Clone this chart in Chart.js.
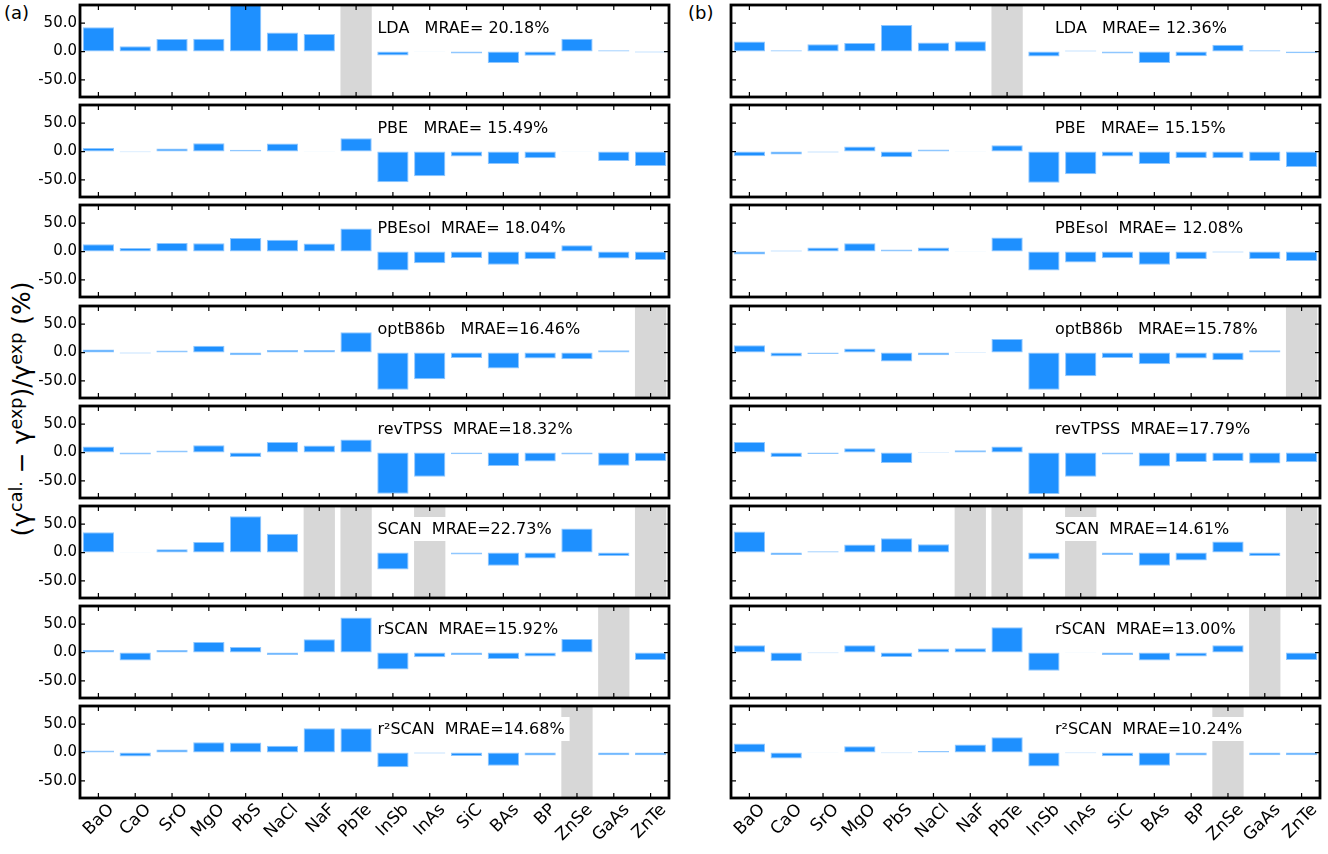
<!DOCTYPE html>
<html>
<head>
<meta charset="utf-8">
<script src="https://cdn.jsdelivr.net/npm/chart.js@4.4.0/dist/chart.umd.min.js"></script>
<style>
  html, body { margin: 0; padding: 0; background: #fff; }
  body { width: 1328px; height: 854px; position: relative; overflow: hidden; font-family: 'DejaVu Sans', sans-serif; }
  canvas { position: absolute; }
  .tag { position: absolute; font-size: 18px; line-height: 1; }
  #ytitle { position: absolute; left: 21px; top: 409px; font-size: 25px; line-height: 1; white-space: nowrap;
            transform: translate(-50%, -50%) rotate(-90deg); }
  #ytitle sup { font-size: 70%; vertical-align: 0.45em; }
</style>
</head>
<body>
<div class="tag" style="left:4px;top:4px">(a)</div>
<div class="tag" style="left:688px;top:4px">(b)</div>
<div id="ytitle">(γ<sup>cal.</sup> − γ<sup>exp</sup>)/γ<sup>exp</sup> (%)</div>
<script>
const materials = ['BaO', 'CaO', 'SrO', 'MgO', 'PbS', 'NaCl', 'NaF', 'PbTe', 'InSb', 'InAs', 'SiC', 'BAs', 'BP', 'ZnSe', 'GaAs', 'ZnTe'];
const yTicks = [-50, 0, 50];

// column (a), null = no data (grey band)
const ldaA     = [43, 9.5, 22, 22.5, 88, 33.5, 31, null, -7, -0.5, -3.5, -20, -7.5, 22.5, 2.4, -1.8];
const pbeA     = [6.5, -1, 5.3, 14.7, 3, 14, -0.5, 23.5, -54, -43.5, -8.8, -21.8, -11.8, -0.5, -16.5, -25.3];
const pbesolA  = [13, 6.5, 15.3, 14.7, 24, 20.6, 14, 40.6, -33.5, -20.6, -11.2, -23, -13.5, 11.2, -12.4, -14.7];
const optb86bA = [5.3, -1.8, 3.5, 11.8, -4.7, 4.7, 4.7, 35.9, -65.3, -47, -9.4, -28.2, -10.6, -11.8, 4.1, null];
const revtpssA = [10.6, -3.5, 3.5, 13, -7.6, 18.8, 12.4, 23, -72.4, -42.4, -2.9, -23.5, -15.9, -3.5, -23, -15.3];
const scanA    = [35.9, -0.5, 5.9, 18.8, 64, 33, null, null, -30, null, -3.5, -23, -10.6, 42.4, -5.9, null];
const rscanA   = [4.7, -14, 4.7, 18.8, 10, -4.1, 23.5, 61.8, -30, -8.2, -4.1, -11.2, -7, 24, null, -13];
const r2scanA  = [3.5, -7, 5.3, 18.2, 17.6, 11.8, 43, 43, -25.9, -1.5, -5.9, -23, -5.3, null, -4.7, -4.7];

// column (b)
const ldaB     = [17.6, 2.4, 13, 15.3, 47, 15.9, 18.2, null, -8.8, 1.8, -3.5, -20, -8.2, 11.8, 2.4, -2.9];
const pbeB     = [-8.2, -5.3, -1.8, 8.8, -10, 3.5, -0.5, 11.2, -54.7, -40, -8.8, -21.8, -11.8, -11.8, -16.5, -27];
const pbesolB  = [-5.3, 1.8, 7, 14.7, 3.5, 7, 0.5, 24.7, -33.5, -19.4, -11.8, -23, -13.5, -1.8, -13, -16.5];
const optb86bB = [13, -7, -2.4, 7, -15.9, -4.7, 1.2, 24, -65.3, -41.8, -9.4, -20.6, -10.6, -13.5, 4.1, null];
const revtpssB = [18.8, -7.6, -2.4, 7.6, -18.2, 0.8, 4.1, 10.6, -73, -42.4, -3.5, -24.7, -16.5, -14.7, -19.4, -17];
const scanB    = [37, -4.1, 2.4, 14, 25.3, 14.7, null, null, -12.4, null, -4.1, -23, -14, 19.4, -5.9, null];
const rscanB   = [13, -15.3, -1.2, 13, -7.6, 7, 7.6, 44.7, -31.8, 0.5, -4.1, -14, -7, 13, null, -13];
const r2scanB  = [15.9, -10.6, -0.5, 11.2, -1.2, 2.9, 14, 27, -24.7, -1.2, -6.5, -23, -5.3, null, -4.7, -4.7];

const labelsA = ['LDA   MRAE= 20.18%', 'PBE   MRAE= 15.49%', 'PBEsol  MRAE= 18.04%', 'optB86b   MRAE=16.46%',
                 'revTPSS  MRAE=18.32%', 'SCAN  MRAE=22.73%', 'rSCAN  MRAE=15.92%', 'r²SCAN  MRAE=14.68%'];
const labelsB = ['LDA   MRAE= 12.36%', 'PBE   MRAE= 15.15%', 'PBEsol  MRAE= 12.08%', 'optB86b   MRAE=15.78%',
                 'revTPSS  MRAE=17.79%', 'SCAN  MRAE=14.61%', 'rSCAN  MRAE=13.00%', 'r²SCAN  MRAE=10.24%'];

const columns = [
  [ldaA, pbeA, pbesolA, optb86bA, revtpssA, scanA, rscanA, r2scanA],
  [ldaB, pbeB, pbesolB, optb86bB, revtpssB, scanB, rscanB, r2scanB]
];
const columnLabels = [labelsA, labelsB];

const yMin = -80, yMax = 82;
const FONT = "'DejaVu Sans', sans-serif";
Chart.defaults.font.family = FONT;
Chart.defaults.color = '#000';

// layout of the grid of panels
const colLeft = [80, 731];
const panelW = 589, panelH = 92;
const textFrac = [0.505, 0.55];

// white label box, inward ticks and frame
const panelDeco = {
  id: 'panelDeco',
  beforeDatasetDraw(chart, args, opts) {
    if (args.index !== 0) return;
    const { ctx, chartArea } = chart;
    ctx.save();
    ctx.font = '16px ' + FONT;
    const tx = chartArea.left + opts.textFrac * chartArea.width;
    const tw = ctx.measureText(opts.text).width;
    ctx.fillStyle = '#fff';
    ctx.fillRect(tx - 5, chartArea.top + 11, tw + 10, 24);
    ctx.fillStyle = '#000';
    ctx.textBaseline = 'middle';
    ctx.fillText(opts.text, tx, chartArea.top + 23.5);
    ctx.restore();
  },
  afterDraw(chart) {
    const { ctx, chartArea: a, scales } = chart;
    ctx.save();
    ctx.strokeStyle = '#000';
    ctx.lineWidth = 1.2;
    ctx.beginPath();
    materials.forEach((m, i) => {
      const x = scales.x.getPixelForValue(i);
      ctx.moveTo(x, a.top); ctx.lineTo(x, a.top + 5);
      ctx.moveTo(x, a.bottom); ctx.lineTo(x, a.bottom - 5);
    });
    yTicks.forEach(v => {
      const y = scales.y.getPixelForValue(v);
      ctx.moveTo(a.left, y); ctx.lineTo(a.left + 5, y);
      ctx.moveTo(a.right, y); ctx.lineTo(a.right - 5, y);
    });
    ctx.stroke();
    ctx.lineWidth = 2.8;
    ctx.strokeRect(a.left, a.top, a.width, a.height);
    ctx.restore();
  }
};

function noPad(s) {
  s.paddingTop = 0; s.paddingBottom = 0; s.paddingLeft = 0; s.paddingRight = 0;
}

function makePanel(col, row) {
  const values = columns[col][row];
  const isBottom = row === 7;
  const padL = col === 0 ? 0 : 6;
  const yW = col === 0 ? colLeft[0] : 0;
  const xH = isBottom ? 58 : 0;
  const panelTop = Math.round(5 + 100.2 * row);

  const canvas = document.createElement('canvas');
  const w = (col === 0 ? yW : padL) + panelW + 6;
  const h = 5 + panelH + (isBottom ? xH : 6);
  canvas.width = w; canvas.height = h;
  canvas.style.width = w + 'px'; canvas.style.height = h + 'px';
  canvas.style.left = (col === 0 ? 0 : colLeft[1] - padL) + 'px';
  canvas.style.top = (panelTop - 5) + 'px';
  document.body.appendChild(canvas);

  new Chart(canvas, {
    type: 'bar',
    data: {
      labels: materials,
      datasets: [
        {
          data: values,
          backgroundColor: '#1e90ff',
          borderColor: '#8fc7ff',
          borderWidth: 1,
          borderSkipped: false,
          grouped: false,
          categoryPercentage: 1,
          barPercentage: 0.85,
          order: 1
        },
        {
          data: values.map(v => v === null ? [yMin, yMax] : null),
          backgroundColor: '#d7d7d7',
          borderWidth: 0,
          grouped: false,
          categoryPercentage: 1,
          barPercentage: 0.85,
          order: 2
        }
      ]
    },
    options: {
      responsive: false,
      animation: false,
      events: [],
      layout: { padding: { left: padL, right: 6, top: 5, bottom: isBottom ? 0 : 6 } },
      plugins: {
        legend: { display: false },
        tooltip: { enabled: false },
        panelDeco: { text: columnLabels[col][row], textFrac: textFrac[col] }
      },
      scales: {
        x: {
          grid: { display: false, drawTicks: false },
          border: { display: false },
          ticks: {
            display: isBottom, autoSkip: false, maxRotation: 45, minRotation: 45,
            font: { size: 17 }, color: '#000', padding: 2, labelOffset: 13
          },
          afterFit: s => { s.height = xH; noPad(s); }
        },
        y: {
          min: yMin, max: yMax,
          grid: { display: false, drawTicks: false },
          border: { display: false },
          ticks: { display: col === 0, font: { size: 15 }, color: '#000', padding: 3, callback: v => v.toFixed(1) },
          afterBuildTicks: s => { s.ticks = yTicks.map(v => ({ value: v })); },
          afterFit: s => { s.width = yW; noPad(s); }
        }
      }
    },
    plugins: [panelDeco]
  });
}

for (let col = 0; col < 2; col++) {
  for (let row = 0; row < 8; row++) makePanel(col, row);
}
</script>
</body>
</html>
